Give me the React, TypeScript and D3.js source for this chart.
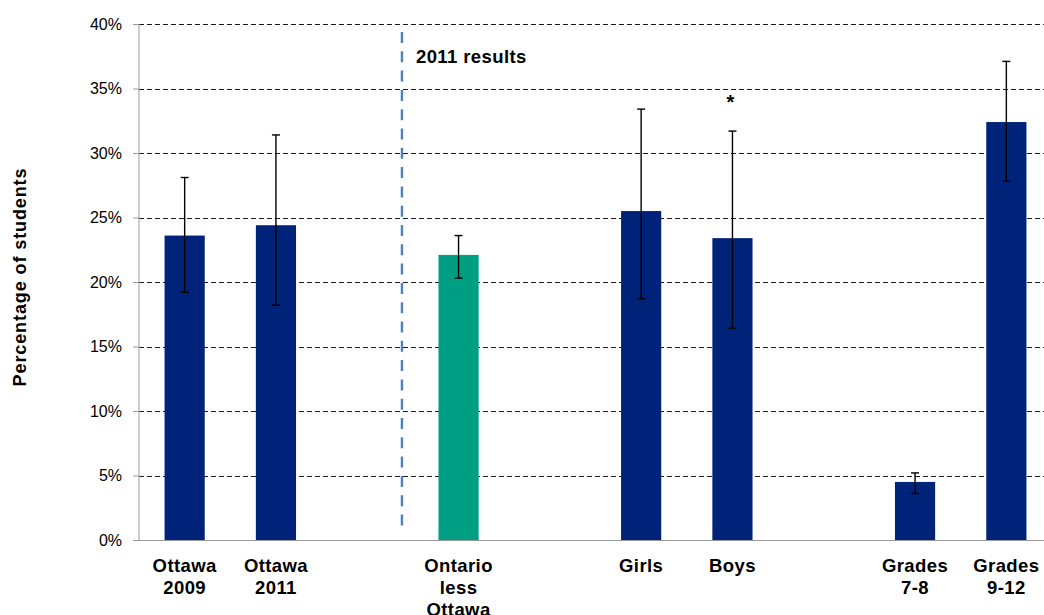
import React, { useEffect, useRef } from "react";
import * as d3 from "d3";

// slot keys: bars plus the empty gaps between groups
const slots = ["o2009", "o2011", "gap1", "ontario", "gap2", "girls", "boys", "gap3", "g78", "g912"];

const categories = ["o2009", "o2011", "ontario", "girls", "boys", "g78", "g912"];
const labels = [
  ["Ottawa", "2009"],
  ["Ottawa", "2011"],
  ["Ontario", "less", "Ottawa"],
  ["Girls"],
  ["Boys"],
  ["Grades", "7-8"],
  ["Grades", "9-12"],
];
const values = [23.6, 24.4, 22.1, 25.5, 23.4, 4.5, 32.4];
const lower = [19.2, 18.2, 20.3, 18.7, 16.4, 3.6, 27.8];
const upper = [28.1, 31.4, 23.6, 33.4, 31.7, 5.2, 37.1];
const colors = ["#00237a", "#00237a", "#009e82", "#00237a", "#00237a", "#00237a", "#00237a"];
const significant = ["boys"];

const yTicks = [0, 5, 10, 15, 20, 25, 30, 35, 40];
const dividerSlot = 2.88; // position of the "2011 results" divider, in slot units

const W = 1044;
const H = 615;

const App: React.FC = () => {
  const svgRef = useRef<SVGSVGElement>(null);

  useEffect(() => {
    if (!svgRef.current) return;
    const svg = d3.select(svgRef.current);
    svg.selectAll("*").remove();

    const font = "'Liberation Sans', Arial, sans-serif";
    const left = 139;
    const right = 1052;
    const top = 24;
    const bottom = 540;

    const x = d3.scaleBand<string>().domain(slots).range([left, right]).paddingInner(0.56).paddingOuter(0.28);
    const y = d3.scaleLinear().domain([0, 40]).range([bottom, top]);
    const slotX = d3.scaleLinear().domain([0, slots.length]).range([left, right]);

    // gridlines
    svg
      .append("g")
      .selectAll("line")
      .data(yTicks.filter((t) => t > 0))
      .enter()
      .append("line")
      .attr("x1", left)
      .attr("x2", W)
      .attr("y1", (d) => Math.round(y(d)) + 0.5)
      .attr("y2", (d) => Math.round(y(d)) + 0.5)
      .attr("stroke", "#1a1a1a")
      .attr("stroke-width", 1.2)
      .attr("stroke-dasharray", "5,3");

    // y axis
    const yAxis = svg
      .append("g")
      .attr("transform", `translate(${left},0)`)
      .call(
        d3
          .axisLeft(y)
          .tickValues(yTicks)
          .tickSize(6)
          .tickPadding(11)
          .tickFormat((d) => `${d}%`)
      );
    yAxis.select(".domain").attr("stroke", "#999").attr("d", `M0,${top}V${bottom}`);
    yAxis.selectAll(".tick line").attr("stroke", "#999");
    yAxis
      .selectAll(".tick text")
      .attr("font-family", font)
      .attr("font-size", 16)
      .attr("fill", "#000");

    // x baseline
    svg
      .append("line")
      .attr("x1", left)
      .attr("x2", W)
      .attr("y1", bottom + 0.5)
      .attr("y2", bottom + 0.5)
      .attr("stroke", "#999")
      .attr("stroke-width", 1.2);

    // divider
    svg
      .append("line")
      .attr("x1", slotX(dividerSlot))
      .attr("x2", slotX(dividerSlot))
      .attr("y1", 32)
      .attr("y2", 533)
      .attr("stroke", "#4f81bd")
      .attr("stroke-width", 2.4)
      .attr("stroke-dasharray", "11,8.3");

    svg
      .append("text")
      .attr("x", slotX(dividerSlot) + 14)
      .attr("y", 62.5)
      .attr("font-family", font)
      .attr("font-weight", "bold")
      .attr("font-size", 18.5)
      .attr("letter-spacing", 0.4)
      .text("2011 results");

    // bars
    const bw = x.bandwidth();
    svg
      .append("g")
      .selectAll("rect")
      .data(categories)
      .enter()
      .append("rect")
      .attr("x", (d) => x(d) || 0)
      .attr("width", bw)
      .attr("y", (d, i) => y(values[i]))
      .attr("height", (d, i) => bottom - y(values[i]))
      .attr("fill", (d, i) => colors[i]);

    // error bars
    const eb = svg.append("g").attr("stroke", "#000").attr("stroke-width", 1.4);
    categories.forEach((c, i) => {
      const cx = (x(c) || 0) + bw / 2;
      eb.append("line").attr("x1", cx).attr("x2", cx).attr("y1", y(lower[i])).attr("y2", y(upper[i]));
      [lower[i], upper[i]].forEach((v) => {
        eb.append("line")
          .attr("x1", cx - 4)
          .attr("x2", cx + 4)
          .attr("y1", y(v))
          .attr("y2", y(v));
      });
    });

    // significance marker
    significant.forEach((c) => {
      const i = categories.indexOf(c);
      svg
        .append("text")
        .attr("x", (x(c) || 0) + bw / 2 - 2)
        .attr("y", y(upper[i]) - 22)
        .attr("text-anchor", "middle")
        .attr("font-family", font)
        .attr("font-weight", "bold")
        .attr("font-size", 20)
        .text("*");
    });

    // category labels
    const lab = svg
      .append("g")
      .attr("font-family", font)
      .attr("font-weight", "bold")
      .attr("font-size", 18.5)
      .attr("letter-spacing", 0.4)
      .attr("text-anchor", "middle");
    categories.forEach((c, i) => {
      const t = lab
        .append("text")
        .attr("x", (x(c) || 0) + bw / 2)
        .attr("y", 571.5);
      labels[i].forEach((line, j) => {
        t.append("tspan")
          .attr("x", (x(c) || 0) + bw / 2)
          .attr("dy", j === 0 ? 0 : 22.3)
          .text(line);
      });
    });

    // y title
    svg
      .append("text")
      .attr("transform", `translate(26,${277}) rotate(-90)`)
      .attr("text-anchor", "middle")
      .attr("font-family", font)
      .attr("font-weight", "bold")
      .attr("font-size", 18)
      .attr("letter-spacing", 0.9)
      .text("Percentage of students");
  }, []);

  return (
    <svg
      ref={svgRef}
      width={W}
      height={H}
      style={{ position: "absolute", left: 0, top: 0, background: "#fff", overflow: "hidden" }}
    />
  );
};

export default App;
